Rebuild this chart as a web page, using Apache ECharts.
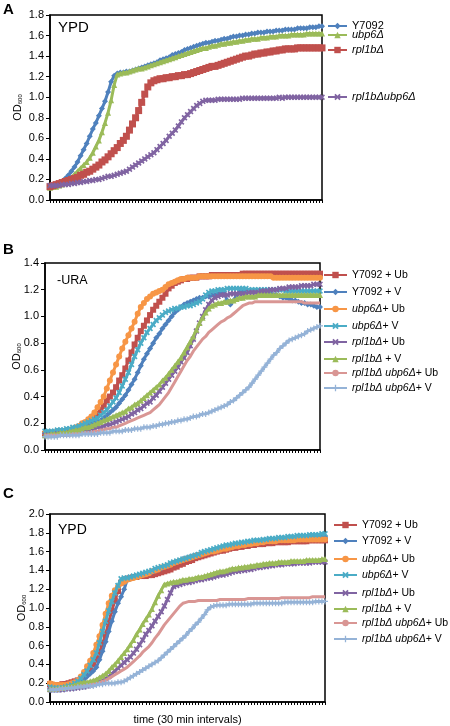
<!DOCTYPE html>
<html>
<head>
<meta charset="utf-8">
<script src="https://cdn.jsdelivr.net/npm/echarts@6/dist/echarts.min.js"></script>
<style>html,body{margin:0;padding:0;background:#fff;}#c{width:450px;height:726px;}</style>
</head>
<body>
<div id="c"></div>
<script>
// ---------- DATA ----------
const timePoints = Array.from({length: 90}, (_, i) => String(i + 1));

// Panel A (YPD)
const namesA = ['Y7092', 'ubp6Δ', 'rpl1bΔ', 'rpl1bΔubp6Δ'];
const a_Y7092 = [0.13,0.14,0.15,0.16,0.18,0.21,0.24,0.28,0.32,0.37,
  0.43,0.49,0.55,0.62,0.69,0.75,0.82,0.89,0.96,1.05,
  1.15,1.21,1.23,1.24,1.24,1.25,1.25,1.26,1.27,1.28,
  1.29,1.30,1.31,1.32,1.33,1.34,1.36,1.37,1.38,1.39,
  1.41,1.42,1.43,1.44,1.46,1.47,1.48,1.49,1.50,1.51,
  1.52,1.53,1.53,1.54,1.55,1.55,1.56,1.57,1.57,1.58,
  1.59,1.59,1.60,1.60,1.61,1.61,1.62,1.62,1.63,1.63,
  1.63,1.64,1.64,1.64,1.65,1.65,1.65,1.66,1.66,1.66,
  1.66,1.67,1.67,1.67,1.67,1.68,1.68,1.68,1.69,1.69];
const a_ubp6 = [0.12,0.13,0.13,0.14,0.15,0.17,0.19,0.22,0.25,0.28,
  0.31,0.34,0.37,0.41,0.46,0.52,0.58,0.66,0.75,0.85,
  0.97,1.12,1.22,1.23,1.24,1.24,1.25,1.26,1.27,1.28,
  1.28,1.29,1.30,1.31,1.32,1.33,1.34,1.35,1.36,1.37,
  1.38,1.39,1.40,1.41,1.42,1.43,1.44,1.45,1.46,1.47,
  1.48,1.48,1.49,1.50,1.50,1.51,1.52,1.52,1.53,1.53,
  1.54,1.54,1.55,1.55,1.56,1.56,1.57,1.57,1.57,1.58,
  1.58,1.58,1.59,1.59,1.59,1.60,1.60,1.60,1.60,1.61,
  1.61,1.61,1.61,1.61,1.62,1.62,1.62,1.62,1.62,1.62];
const a_rpl1b = [0.13,0.14,0.15,0.16,0.17,0.18,0.19,0.20,0.21,0.22,
  0.24,0.25,0.27,0.28,0.30,0.32,0.34,0.37,0.39,0.42,
  0.45,0.48,0.51,0.55,0.58,0.62,0.68,0.74,0.80,0.87,
  0.95,1.03,1.10,1.14,1.16,1.17,1.18,1.18,1.19,1.19,
  1.20,1.20,1.21,1.21,1.22,1.22,1.23,1.24,1.25,1.26,
  1.27,1.28,1.29,1.30,1.30,1.31,1.32,1.33,1.34,1.35,
  1.36,1.37,1.38,1.39,1.40,1.40,1.41,1.42,1.42,1.43,
  1.43,1.44,1.44,1.45,1.45,1.46,1.46,1.47,1.47,1.47,
  1.47,1.48,1.48,1.48,1.48,1.48,1.48,1.48,1.48,1.48];
const a_double = [0.14,0.14,0.14,0.14,0.15,0.15,0.15,0.16,0.16,0.17,
  0.17,0.18,0.18,0.19,0.19,0.20,0.20,0.21,0.22,0.23,
  0.23,0.24,0.25,0.26,0.27,0.28,0.30,0.32,0.34,0.36,
  0.38,0.40,0.42,0.44,0.46,0.49,0.52,0.55,0.58,0.62,
  0.65,0.68,0.72,0.76,0.80,0.83,0.86,0.89,0.92,0.94,
  0.96,0.97,0.97,0.97,0.97,0.98,0.98,0.98,0.98,0.98,
  0.98,0.98,0.98,0.99,0.99,0.99,0.99,0.99,0.99,0.99,
  0.99,0.99,0.99,0.99,0.99,1.00,0.99,1.00,1.00,1.00,
  1.00,1.00,1.00,1.00,1.00,1.00,1.00,1.00,1.00,1.00];

// Panels B (-URA) and C (YPD) share series names
const namesBC = ['Y7092 + Ub', 'Y7092 + V', 'ubp6Δ+ Ub', 'ubp6Δ+ V', 'rpl1bΔ+ Ub', 'rpl1bΔ + V', 'rpl1bΔ ubp6Δ+ Ub', 'rpl1bΔ ubp6Δ+ V'];

// Panel B
const b_Y7092_Ub = [0.12,0.12,0.12,0.13,0.13,0.13,0.14,0.14,0.15,0.15,
  0.16,0.17,0.18,0.20,0.21,0.23,0.25,0.27,0.30,0.33,
  0.37,0.40,0.43,0.47,0.52,0.56,0.61,0.67,0.73,0.79,
  0.84,0.89,0.93,0.97,1.01,1.05,1.08,1.11,1.14,1.17,
  1.21,1.23,1.25,1.26,1.27,1.28,1.28,1.29,1.29,1.29,
  1.30,1.30,1.30,1.30,1.31,1.31,1.31,1.31,1.31,1.31,
  1.31,1.31,1.31,1.31,1.32,1.32,1.32,1.32,1.32,1.32,
  1.32,1.32,1.32,1.32,1.32,1.32,1.32,1.32,1.32,1.32,
  1.32,1.32,1.32,1.32,1.32,1.32,1.32,1.32,1.32,1.32];
const b_Y7092_V = [0.13,0.13,0.13,0.13,0.14,0.14,0.14,0.14,0.15,0.15,
  0.15,0.16,0.16,0.17,0.18,0.19,0.20,0.21,0.22,0.24,
  0.26,0.28,0.30,0.32,0.35,0.38,0.41,0.45,0.49,0.53,
  0.58,0.63,0.68,0.72,0.76,0.80,0.84,0.87,0.91,0.94,
  0.97,1.00,1.03,1.05,1.07,1.09,1.10,1.11,1.12,1.13,
  1.14,1.14,1.15,1.15,1.16,1.16,1.17,1.17,1.17,1.12,
  1.09,1.12,1.16,1.18,1.19,1.19,1.19,1.19,1.19,1.18,
  1.18,1.18,1.17,1.17,1.16,1.16,1.15,1.14,1.14,1.13,
  1.12,1.12,1.11,1.10,1.10,1.09,1.09,1.08,1.07,1.07];
const b_ubp6_Ub = [0.13,0.13,0.13,0.13,0.14,0.14,0.14,0.15,0.15,0.16,
  0.17,0.18,0.20,0.21,0.23,0.25,0.28,0.32,0.36,0.40,
  0.46,0.52,0.58,0.64,0.70,0.76,0.81,0.86,0.91,0.96,
  1.02,1.07,1.10,1.13,1.15,1.17,1.18,1.19,1.20,1.22,
  1.24,1.25,1.26,1.27,1.28,1.28,1.29,1.29,1.29,1.29,
  1.30,1.30,1.30,1.30,1.30,1.30,1.30,1.30,1.30,1.30,
  1.30,1.30,1.30,1.30,1.30,1.30,1.30,1.30,1.30,1.30,
  1.30,1.30,1.30,1.30,1.29,1.29,1.29,1.29,1.29,1.29,
  1.29,1.29,1.29,1.29,1.29,1.29,1.29,1.29,1.29,1.29];
const b_ubp6_V = [0.14,0.14,0.14,0.14,0.15,0.15,0.15,0.16,0.16,0.17,
  0.17,0.18,0.19,0.20,0.21,0.22,0.23,0.24,0.26,0.28,
  0.30,0.33,0.36,0.39,0.43,0.48,0.53,0.58,0.64,0.70,
  0.75,0.80,0.84,0.88,0.91,0.94,0.97,0.99,1.01,1.03,
  1.04,1.05,1.06,1.06,1.07,1.07,1.08,1.08,1.09,1.10,
  1.11,1.13,1.16,1.18,1.19,1.19,1.20,1.20,1.20,1.21,
  1.21,1.21,1.21,1.21,1.21,1.21,1.20,1.20,1.20,1.20,
  1.20,1.20,1.20,1.20,1.20,1.20,1.20,1.20,1.19,1.19,
  1.19,1.19,1.19,1.19,1.19,1.19,1.19,1.19,1.19,1.19];
const b_rpl1b_Ub = [0.11,0.11,0.11,0.11,0.12,0.12,0.12,0.12,0.13,0.13,
  0.13,0.14,0.14,0.15,0.15,0.16,0.16,0.17,0.17,0.18,
  0.19,0.19,0.20,0.21,0.22,0.23,0.24,0.25,0.27,0.28,
  0.30,0.31,0.33,0.35,0.36,0.39,0.41,0.44,0.47,0.50,
  0.53,0.56,0.59,0.62,0.66,0.69,0.73,0.78,0.83,0.89,
  0.95,1.00,1.05,1.09,1.12,1.14,1.15,1.16,1.16,1.16,
  1.17,1.17,1.17,1.17,1.17,1.17,1.18,1.18,1.18,1.18,
  1.19,1.19,1.19,1.20,1.20,1.20,1.21,1.21,1.21,1.22,
  1.22,1.22,1.22,1.23,1.23,1.23,1.23,1.24,1.24,1.24];
const b_rpl1b_V = [0.11,0.11,0.12,0.12,0.12,0.13,0.13,0.13,0.14,0.14,
  0.15,0.15,0.16,0.17,0.17,0.18,0.19,0.20,0.21,0.22,
  0.23,0.24,0.25,0.26,0.27,0.28,0.29,0.31,0.32,0.34,
  0.35,0.37,0.39,0.41,0.43,0.45,0.47,0.49,0.52,0.54,
  0.57,0.60,0.63,0.66,0.69,0.73,0.77,0.81,0.85,0.90,
  0.95,0.99,1.03,1.06,1.08,1.09,1.10,1.10,1.11,1.11,
  1.12,1.12,1.13,1.14,1.14,1.15,1.15,1.15,1.15,1.16,
  1.16,1.16,1.16,1.16,1.16,1.16,1.16,1.16,1.16,1.16,
  1.16,1.16,1.16,1.16,1.16,1.16,1.16,1.16,1.16,1.16];
const b_double_Ub = [0.11,0.11,0.11,0.11,0.11,0.11,0.11,0.11,0.11,0.12,
  0.12,0.12,0.12,0.13,0.13,0.13,0.14,0.14,0.15,0.15,
  0.16,0.16,0.17,0.17,0.18,0.19,0.20,0.21,0.22,0.23,
  0.24,0.25,0.26,0.27,0.28,0.30,0.32,0.34,0.37,0.40,
  0.43,0.47,0.51,0.55,0.59,0.63,0.67,0.70,0.74,0.77,
  0.80,0.83,0.85,0.88,0.90,0.92,0.94,0.96,0.97,0.99,
  1.00,1.02,1.04,1.06,1.08,1.09,1.10,1.10,1.11,1.11,
  1.11,1.11,1.11,1.11,1.11,1.11,1.11,1.11,1.11,1.11,
  1.11,1.11,1.11,1.11,1.10,1.10,1.10,1.10,1.10,1.10];
const b_double_V = [0.10,0.10,0.10,0.10,0.10,0.11,0.11,0.11,0.11,0.11,
  0.11,0.11,0.12,0.12,0.12,0.12,0.12,0.12,0.13,0.13,
  0.13,0.13,0.14,0.14,0.14,0.14,0.15,0.15,0.15,0.16,
  0.16,0.16,0.17,0.17,0.17,0.18,0.18,0.19,0.19,0.20,
  0.20,0.21,0.21,0.22,0.22,0.23,0.23,0.24,0.25,0.25,
  0.26,0.27,0.27,0.28,0.29,0.30,0.31,0.32,0.33,0.34,
  0.36,0.37,0.39,0.41,0.43,0.45,0.47,0.50,0.53,0.56,
  0.59,0.62,0.65,0.68,0.71,0.73,0.76,0.78,0.80,0.82,
  0.83,0.84,0.85,0.86,0.87,0.89,0.90,0.91,0.92,0.93];

// Panel C
const c_Y7092_Ub = [0.19,0.18,0.18,0.18,0.19,0.19,0.20,0.21,0.22,0.23,
  0.25,0.28,0.31,0.35,0.40,0.45,0.53,0.62,0.72,0.85,
  0.97,1.08,1.18,1.27,1.30,1.31,1.32,1.33,1.33,1.34,
  1.34,1.34,1.35,1.35,1.36,1.37,1.38,1.39,1.40,1.41,
  1.43,1.44,1.46,1.47,1.49,1.50,1.51,1.53,1.54,1.55,
  1.56,1.57,1.58,1.59,1.60,1.61,1.61,1.62,1.63,1.64,
  1.64,1.65,1.65,1.66,1.66,1.67,1.67,1.68,1.68,1.68,
  1.69,1.69,1.69,1.70,1.70,1.70,1.70,1.70,1.71,1.71,
  1.71,1.71,1.71,1.71,1.72,1.72,1.72,1.72,1.72,1.72];
const c_Y7092_V = [0.13,0.13,0.13,0.13,0.14,0.14,0.15,0.16,0.17,0.19,
  0.21,0.24,0.27,0.30,0.33,0.37,0.45,0.54,0.64,0.75,
  0.86,0.96,1.05,1.12,1.20,1.30,1.31,1.32,1.33,1.34,
  1.35,1.36,1.37,1.38,1.40,1.41,1.42,1.44,1.45,1.46,
  1.48,1.49,1.50,1.52,1.53,1.54,1.55,1.56,1.57,1.58,
  1.59,1.60,1.61,1.62,1.62,1.63,1.64,1.65,1.65,1.66,
  1.67,1.67,1.68,1.68,1.69,1.69,1.70,1.70,1.71,1.71,
  1.72,1.72,1.72,1.73,1.73,1.73,1.74,1.74,1.74,1.74,
  1.75,1.75,1.75,1.75,1.75,1.76,1.76,1.76,1.76,1.76];
const c_ubp6_Ub = [0.20,0.19,0.18,0.18,0.18,0.18,0.19,0.20,0.21,0.23,
  0.27,0.32,0.38,0.44,0.52,0.61,0.70,0.82,0.94,1.05,
  1.13,1.19,1.23,1.26,1.28,1.30,1.31,1.32,1.33,1.34,
  1.35,1.36,1.37,1.39,1.40,1.41,1.43,1.44,1.45,1.46,
  1.48,1.49,1.50,1.51,1.52,1.53,1.54,1.55,1.56,1.57,
  1.58,1.59,1.60,1.60,1.61,1.62,1.63,1.63,1.64,1.65,
  1.66,1.66,1.67,1.67,1.68,1.68,1.69,1.69,1.70,1.70,
  1.71,1.71,1.71,1.71,1.72,1.72,1.72,1.72,1.72,1.72,
  1.73,1.73,1.73,1.73,1.73,1.73,1.73,1.73,1.73,1.73];
const c_ubp6_V = [0.16,0.15,0.15,0.15,0.15,0.16,0.17,0.18,0.20,0.22,
  0.25,0.29,0.33,0.39,0.45,0.52,0.63,0.75,0.86,0.97,
  1.07,1.16,1.24,1.31,1.32,1.32,1.33,1.34,1.35,1.36,
  1.37,1.38,1.39,1.40,1.42,1.43,1.44,1.45,1.46,1.48,
  1.49,1.50,1.51,1.52,1.53,1.54,1.55,1.56,1.57,1.59,
  1.60,1.61,1.62,1.63,1.64,1.65,1.66,1.67,1.67,1.68,
  1.69,1.69,1.70,1.70,1.71,1.71,1.72,1.72,1.72,1.73,
  1.73,1.74,1.74,1.74,1.75,1.75,1.75,1.76,1.76,1.76,
  1.77,1.77,1.77,1.77,1.78,1.78,1.78,1.78,1.79,1.79];
const c_rpl1b_Ub = [0.13,0.13,0.13,0.13,0.13,0.14,0.14,0.14,0.15,0.15,
  0.16,0.16,0.17,0.18,0.19,0.20,0.22,0.23,0.25,0.27,
  0.30,0.33,0.36,0.39,0.42,0.45,0.48,0.52,0.56,0.61,
  0.66,0.72,0.76,0.81,0.86,0.91,0.96,1.02,1.09,1.16,
  1.23,1.24,1.25,1.26,1.27,1.27,1.28,1.29,1.30,1.30,
  1.31,1.32,1.32,1.33,1.34,1.35,1.35,1.36,1.37,1.38,
  1.39,1.39,1.40,1.40,1.41,1.41,1.42,1.43,1.43,1.44,
  1.44,1.45,1.45,1.46,1.46,1.46,1.47,1.47,1.47,1.47,
  1.48,1.48,1.48,1.48,1.48,1.49,1.49,1.49,1.49,1.49];
const c_rpl1b_V = [0.14,0.14,0.14,0.15,0.15,0.16,0.16,0.17,0.18,0.19,
  0.20,0.21,0.21,0.22,0.23,0.24,0.26,0.28,0.30,0.33,
  0.37,0.40,0.44,0.48,0.52,0.56,0.61,0.66,0.72,0.77,
  0.83,0.88,0.93,0.99,1.06,1.13,1.19,1.25,1.26,1.27,
  1.28,1.28,1.29,1.30,1.30,1.31,1.31,1.32,1.33,1.33,
  1.34,1.35,1.36,1.37,1.38,1.39,1.39,1.40,1.41,1.42,
  1.42,1.43,1.43,1.44,1.44,1.45,1.45,1.46,1.46,1.47,
  1.47,1.48,1.48,1.48,1.49,1.49,1.49,1.49,1.50,1.50,
  1.50,1.50,1.50,1.51,1.51,1.51,1.51,1.51,1.52,1.52];
const c_double_Ub = [0.13,0.13,0.13,0.13,0.14,0.14,0.14,0.15,0.15,0.16,
  0.16,0.17,0.17,0.18,0.19,0.19,0.20,0.22,0.23,0.25,
  0.27,0.29,0.31,0.33,0.35,0.37,0.40,0.43,0.46,0.49,
  0.53,0.56,0.59,0.63,0.68,0.72,0.77,0.82,0.86,0.90,
  0.94,0.98,1.02,1.05,1.06,1.07,1.07,1.07,1.08,1.08,
  1.08,1.08,1.08,1.08,1.08,1.09,1.09,1.09,1.09,1.09,
  1.09,1.09,1.09,1.09,1.10,1.10,1.10,1.10,1.10,1.10,
  1.10,1.10,1.10,1.10,1.10,1.11,1.11,1.11,1.11,1.11,
  1.11,1.11,1.11,1.11,1.11,1.12,1.12,1.12,1.12,1.12];
const c_double_V = [0.13,0.13,0.13,0.14,0.14,0.14,0.15,0.15,0.15,0.16,
  0.16,0.16,0.17,0.17,0.17,0.18,0.19,0.19,0.20,0.20,
  0.20,0.20,0.21,0.21,0.22,0.24,0.26,0.28,0.30,0.32,
  0.34,0.36,0.38,0.40,0.42,0.44,0.47,0.50,0.53,0.56,
  0.59,0.62,0.65,0.68,0.71,0.75,0.78,0.82,0.85,0.89,
  0.93,0.98,1.01,1.02,1.03,1.03,1.03,1.03,1.04,1.04,
  1.04,1.04,1.04,1.04,1.04,1.04,1.05,1.05,1.05,1.05,
  1.05,1.05,1.05,1.05,1.05,1.05,1.06,1.06,1.06,1.06,
  1.06,1.06,1.06,1.06,1.06,1.06,1.07,1.07,1.07,1.07];

const yRangeA = [0, 1.8], yRangeB = [0, 1.4], yRangeC = [0, 2.0];

// ---------- STYLE ----------
const FONT = '"Liberation Sans", Arial, sans-serif';
const SYM_X = 'path://M0,2L2,0L5,3L8,0L10,2L7,5L10,8L8,10L5,7L2,10L0,8L3,5Z';
const SYM_PLUS = 'path://M4,0H6V4H10V6H6V10H4V6H0V4H4Z';
const styleA = {
  'Y7092':        {color: '#4F81BD', symbol: 'diamond', size: 6},
  'ubp6Δ':        {color: '#9BBB59', symbol: 'triangle', size: 6},
  'rpl1bΔ':       {color: '#C0504D', symbol: 'rect', size: 7},
  'rpl1bΔubp6Δ':  {color: '#8064A2', symbol: SYM_X, size: 6}
};
const styleBC = {
  'Y7092 + Ub':        {color: '#C0504D', symbol: 'rect', size: 6},
  'Y7092 + V':         {color: '#4F81BD', symbol: 'diamond', size: 6},
  'ubp6Δ+ Ub':         {color: '#F79646', symbol: 'circle', size: 6},
  'ubp6Δ+ V':          {color: '#4BACC6', symbol: SYM_X, size: 6},
  'rpl1bΔ+ Ub':        {color: '#8064A2', symbol: SYM_X, size: 6},
  'rpl1bΔ + V':        {color: '#9BBB59', symbol: 'triangle', size: 6},
  'rpl1bΔ ubp6Δ+ Ub':  {color: '#D99694', symbol: 'none', size: 0},
  'rpl1bΔ ubp6Δ+ V':   {color: '#95B3D7', symbol: SYM_PLUS, size: 6}
};
const richLabel = {
  'Y7092': 'Y7092',
  'ubp6Δ': '{i|ubp6Δ}',
  'rpl1bΔ': '{i|rpl1bΔ}',
  'rpl1bΔubp6Δ': '{i|rpl1bΔubp6Δ}',
  'Y7092 + Ub': 'Y7092 + Ub',
  'Y7092 + V': 'Y7092 + V',
  'ubp6Δ+ Ub': '{i|ubp6Δ}+ Ub',
  'ubp6Δ+ V': '{i|ubp6Δ}+ V',
  'rpl1bΔ+ Ub': '{i|rpl1bΔ}+ Ub',
  'rpl1bΔ + V': '{i|rpl1bΔ} + V',
  'rpl1bΔ ubp6Δ+ Ub': '{i|rpl1bΔ ubp6Δ}+ Ub',
  'rpl1bΔ ubp6Δ+ V': '{i|rpl1bΔ ubp6Δ}+ V'
};

const grids = [
  {left: 50, top: 15, width: 272, height: 185},
  {left: 45, top: 263, width: 275, height: 187},
  {left: 50, top: 514, width: 275, height: 188}
];
const yRanges = [yRangeA, yRangeB, yRangeC];
const nameGaps = [27, 23, 23];

function mkSeries(name, data, g, st, z) {
  return {
    type: 'line', name: name, data: data, xAxisIndex: g, yAxisIndex: g,
    symbol: st.symbol, symbolSize: st.size, showSymbol: st.symbol !== 'none', showAllSymbol: true,
    lineStyle: {width: 3, color: st.color}, itemStyle: {color: st.color},
    emphasis: {disabled: true}, z: z, animation: false
  };
}

const series = [];
const dataA = [a_Y7092, a_ubp6, a_rpl1b, a_double];
namesA.forEach((n, k) => series.push(mkSeries(n, dataA[k], 0, styleA[n], 2 + k)));
const dataB = [b_Y7092_Ub, b_Y7092_V, b_ubp6_Ub, b_ubp6_V, b_rpl1b_Ub, b_rpl1b_V, b_double_Ub, b_double_V];
namesBC.forEach((n, k) => series.push(mkSeries(n, dataB[k], 1, styleBC[n], 2 + k)));
const dataC = [c_Y7092_Ub, c_Y7092_V, c_ubp6_Ub, c_ubp6_V, c_rpl1b_Ub, c_rpl1b_V, c_double_Ub, c_double_V];
namesBC.forEach((n, k) => series.push(mkSeries(n, dataC[k], 2, styleBC[n], 2 + k)));

// legend placement (item centers)
const legA = {left: 327, width: 19, font: 11, centers: [26, 35, 50, 97]};
const legB = {left: 323, width: 23, font: 10.5, centers: [275, 292, 309, 326, 342, 359, 373, 388]};
const legC = {left: 333, width: 23, font: 10.5, centers: [525, 541, 559, 575, 593, 609, 623, 639]};
const legends = [];
function addLegends(names, L) {
  names.forEach((n, k) => legends.push({
    data: [n], left: L.left, top: L.centers[k] - 7, orient: 'vertical', padding: 0,
    itemWidth: L.width, itemHeight: 8, itemGap: 3, selectedMode: false,
    formatter: nm => richLabel[nm],
    textStyle: {fontSize: L.font, color: '#000', fontFamily: FONT, lineHeight: 14,
      rich: {i: {fontStyle: 'italic', fontSize: L.font, color: '#000', fontFamily: FONT, lineHeight: 14}}}
  }));
}
addLegends(namesA, legA);
addLegends(namesBC, legB);
addLegends(namesBC, legC);

const option = {
  animation: false,
  backgroundColor: '#fff',
  grid: grids.map(g => Object.assign({show: true, borderColor: '#000', borderWidth: 1.5, containLabel: false, outerBoundsMode: 'none'}, g)),
  xAxis: grids.map((g, i) => ({
    type: 'category', gridIndex: i, data: timePoints, boundaryGap: false,
    axisLine: {show: true, lineStyle: {color: '#000', width: 1.5}},
    axisTick: {show: true, interval: 0, length: 3, inside: false, lineStyle: {color: '#000', width: 1}},
    axisLabel: {show: false}, splitLine: {show: false},
    name: i === 2 ? 'time (30 min intervals)' : '', nameLocation: 'middle', nameGap: 12,
    nameTextStyle: {fontSize: 11, color: '#000', fontFamily: FONT}
  })),
  yAxis: grids.map((g, i) => ({
    type: 'value', gridIndex: i, min: yRanges[i][0], max: yRanges[i][1], interval: 0.2,
    axisLine: {show: true, lineStyle: {color: '#000', width: 1.5}},
    axisTick: {show: true, length: 4, lineStyle: {color: '#000', width: 1}},
    axisLabel: {formatter: v => v.toFixed(1), fontSize: 11, color: '#000', fontFamily: FONT, margin: 6},
    splitLine: {show: false},
    name: 'OD{s|600}', nameLocation: 'middle', nameRotate: 90, nameGap: nameGaps[i], nameMoveOverlap: false,
    nameTextStyle: {fontSize: 11, color: '#000', fontFamily: FONT,
      rich: {s: {fontSize: 6, color: '#000', fontFamily: FONT, verticalAlign: 'bottom', padding: [4, 0, 0, 0]}}}
  })),
  legend: legends,
  graphic: [
    {type: 'text', left: 3, top: 2, style: {text: 'A', font: 'bold 15px ' + FONT, fill: '#000'}},
    {type: 'text', left: 58, top: 20, style: {text: 'YPD', font: '15px ' + FONT, fill: '#000'}},
    {type: 'text', left: 3, top: 242, style: {text: 'B', font: 'bold 15px ' + FONT, fill: '#000'}},
    {type: 'text', left: 57, top: 274, style: {text: '-URA', font: '12.5px ' + FONT, fill: '#000'}},
    {type: 'text', left: 3, top: 486, style: {text: 'C', font: 'bold 15px ' + FONT, fill: '#000'}},
    {type: 'text', left: 58, top: 523, style: {text: 'YPD', font: '14px ' + FONT, fill: '#000'}}
  ],
  series: series
};

const chart = echarts.init(document.getElementById('c'), null, {renderer: 'canvas'});
chart.setOption(option);
</script>
</body>
</html>
